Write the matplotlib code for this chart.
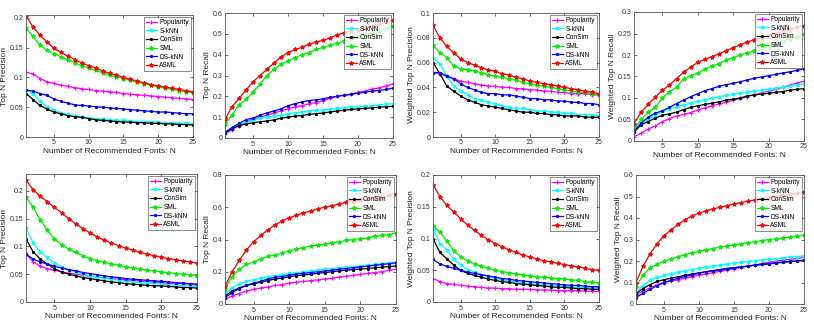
import matplotlib
matplotlib.use("Agg")
import matplotlib.pyplot as plt
import numpy as np
from matplotlib.ticker import FuncFormatter

plt.rcParams['font.family'] = ['Liberation Sans', 'DejaVu Sans']

N = np.arange(1, 26)
methods = ['Popularity', 'S-kNN', 'ConSim', 'SML', 'DS-kNN', 'ASML']

# ---- top row ----
prec_a = {
    'Popularity': [0.109, 0.106, 0.098, 0.093, 0.090, 0.087, 0.085, 0.083, 0.081, 0.080, 0.078, 0.077, 0.076, 0.075, 0.073, 0.072, 0.071, 0.070, 0.069, 0.068, 0.067, 0.066, 0.065, 0.064, 0.063],
    'S-kNN': [0.079, 0.073, 0.060, 0.051, 0.045, 0.041, 0.038, 0.036, 0.034, 0.032, 0.031, 0.030, 0.029, 0.028, 0.028, 0.027, 0.026, 0.026, 0.025, 0.025, 0.024, 0.024, 0.023, 0.023, 0.022],
    'ConSim': [0.073, 0.063, 0.053, 0.047, 0.042, 0.039, 0.036, 0.034, 0.033, 0.031, 0.029, 0.028, 0.027, 0.026, 0.025, 0.025, 0.024, 0.024, 0.023, 0.023, 0.022, 0.022, 0.021, 0.021, 0.020],
    'SML': [0.183, 0.169, 0.154, 0.146, 0.140, 0.135, 0.130, 0.125, 0.120, 0.116, 0.112, 0.108, 0.104, 0.101, 0.098, 0.095, 0.092, 0.089, 0.087, 0.084, 0.082, 0.080, 0.078, 0.076, 0.074],
    'DS-kNN': [0.079, 0.077, 0.073, 0.070, 0.064, 0.060, 0.057, 0.054, 0.053, 0.052, 0.051, 0.050, 0.049, 0.048, 0.047, 0.046, 0.045, 0.044, 0.043, 0.042, 0.042, 0.041, 0.040, 0.039, 0.039],
    'ASML': [0.204, 0.185, 0.171, 0.160, 0.149, 0.142, 0.136, 0.130, 0.124, 0.120, 0.116, 0.111, 0.107, 0.104, 0.100, 0.097, 0.094, 0.091, 0.088, 0.086, 0.084, 0.082, 0.080, 0.078, 0.076],
}
recall_a = {
    'Popularity': [0.02, 0.04, 0.06, 0.075, 0.09, 0.10, 0.11, 0.12, 0.13, 0.14, 0.15, 0.155, 0.165, 0.17, 0.18, 0.19, 0.20, 0.205, 0.21, 0.22, 0.225, 0.235, 0.24, 0.25, 0.26],
    'S-kNN': [0.025, 0.05, 0.065, 0.075, 0.085, 0.095, 0.10, 0.105, 0.11, 0.115, 0.12, 0.125, 0.13, 0.133, 0.135, 0.138, 0.142, 0.145, 0.148, 0.15, 0.153, 0.155, 0.158, 0.162, 0.165],
    'ConSim': [0.025, 0.045, 0.06, 0.067, 0.073, 0.078, 0.082, 0.087, 0.095, 0.10, 0.105, 0.108, 0.113, 0.117, 0.12, 0.125, 0.13, 0.133, 0.137, 0.14, 0.142, 0.145, 0.148, 0.15, 0.152],
    'SML': [0.065, 0.11, 0.16, 0.185, 0.22, 0.26, 0.30, 0.33, 0.355, 0.37, 0.385, 0.40, 0.41, 0.425, 0.435, 0.445, 0.455, 0.465, 0.475, 0.485, 0.495, 0.505, 0.515, 0.525, 0.54],
    'DS-kNN': [0.028, 0.05, 0.07, 0.088, 0.095, 0.11, 0.12, 0.13, 0.14, 0.155, 0.165, 0.173, 0.18, 0.183, 0.188, 0.195, 0.20, 0.205, 0.21, 0.215, 0.22, 0.225, 0.228, 0.233, 0.24],
    'ASML': [0.09, 0.15, 0.19, 0.23, 0.27, 0.30, 0.33, 0.36, 0.39, 0.41, 0.425, 0.435, 0.45, 0.46, 0.47, 0.48, 0.495, 0.505, 0.515, 0.52, 0.53, 0.54, 0.545, 0.555, 0.565],
}
wprec_a = {
    'Popularity': [0.052, 0.051, 0.049, 0.047, 0.045, 0.044, 0.043, 0.042, 0.041, 0.041, 0.040, 0.040, 0.039, 0.039, 0.038, 0.038, 0.037, 0.037, 0.036, 0.036, 0.035, 0.035, 0.035, 0.034, 0.034],
    'S-kNN': [0.064, 0.059, 0.049, 0.041, 0.037, 0.034, 0.031, 0.030, 0.028, 0.027, 0.025, 0.024, 0.023, 0.023, 0.022, 0.021, 0.021, 0.020, 0.020, 0.019, 0.019, 0.018, 0.018, 0.018, 0.017],
    'ConSim': [0.060, 0.051, 0.041, 0.037, 0.033, 0.030, 0.028, 0.026, 0.025, 0.024, 0.023, 0.022, 0.021, 0.020, 0.020, 0.019, 0.019, 0.018, 0.018, 0.017, 0.017, 0.017, 0.016, 0.016, 0.016],
    'SML': [0.074, 0.068, 0.064, 0.057, 0.055, 0.054, 0.053, 0.052, 0.050, 0.049, 0.048, 0.047, 0.046, 0.044, 0.043, 0.042, 0.041, 0.040, 0.039, 0.038, 0.037, 0.036, 0.036, 0.035, 0.034],
    'DS-kNN': [0.052, 0.052, 0.049, 0.047, 0.043, 0.040, 0.038, 0.036, 0.035, 0.035, 0.034, 0.034, 0.033, 0.032, 0.031, 0.031, 0.030, 0.030, 0.029, 0.029, 0.028, 0.028, 0.027, 0.027, 0.026],
    'ASML': [0.090, 0.080, 0.073, 0.068, 0.063, 0.060, 0.058, 0.056, 0.054, 0.053, 0.051, 0.050, 0.048, 0.047, 0.045, 0.044, 0.043, 0.042, 0.041, 0.040, 0.039, 0.038, 0.037, 0.036, 0.035],
}
wrecall_a = {
    'Popularity': [0.01, 0.018, 0.028, 0.035, 0.045, 0.052, 0.058, 0.062, 0.066, 0.072, 0.077, 0.082, 0.086, 0.09, 0.095, 0.099, 0.103, 0.108, 0.112, 0.116, 0.12, 0.125, 0.13, 0.135, 0.139],
    'S-kNN': [0.025, 0.04, 0.05, 0.06, 0.07, 0.075, 0.079, 0.084, 0.088, 0.092, 0.096, 0.099, 0.103, 0.106, 0.109, 0.111, 0.114, 0.116, 0.118, 0.12, 0.123, 0.125, 0.128, 0.131, 0.133],
    'ConSim': [0.02, 0.038, 0.045, 0.053, 0.06, 0.063, 0.067, 0.073, 0.078, 0.082, 0.085, 0.088, 0.091, 0.095, 0.097, 0.1, 0.105, 0.107, 0.109, 0.111, 0.113, 0.115, 0.118, 0.12, 0.122],
    'SML': [0.027, 0.05, 0.067, 0.078, 0.10, 0.115, 0.125, 0.145, 0.152, 0.158, 0.167, 0.174, 0.18, 0.188, 0.194, 0.20, 0.205, 0.21, 0.215, 0.22, 0.227, 0.232, 0.238, 0.243, 0.248],
    'DS-kNN': [0.022, 0.042, 0.055, 0.065, 0.07, 0.078, 0.087, 0.095, 0.103, 0.11, 0.117, 0.122, 0.127, 0.131, 0.134, 0.138, 0.142, 0.146, 0.149, 0.152, 0.155, 0.158, 0.161, 0.164, 0.168],
    'ASML': [0.04, 0.067, 0.085, 0.102, 0.118, 0.13, 0.145, 0.16, 0.172, 0.183, 0.19, 0.196, 0.203, 0.21, 0.217, 0.224, 0.23, 0.236, 0.24, 0.245, 0.25, 0.255, 0.26, 0.264, 0.268],
}

# ---- bottom row ----
prec_b = {
    'Popularity': [0.086, 0.072, 0.064, 0.060, 0.057, 0.054, 0.052, 0.050, 0.048, 0.046, 0.045, 0.043, 0.042, 0.041, 0.040, 0.039, 0.038, 0.037, 0.036, 0.035, 0.034, 0.033, 0.033, 0.032, 0.031],
    'S-kNN': [0.133, 0.106, 0.090, 0.080, 0.070, 0.063, 0.058, 0.054, 0.050, 0.047, 0.045, 0.043, 0.041, 0.039, 0.037, 0.036, 0.035, 0.034, 0.033, 0.032, 0.031, 0.030, 0.029, 0.029, 0.028],
    'ConSim': [0.114, 0.090, 0.077, 0.068, 0.060, 0.054, 0.050, 0.047, 0.044, 0.042, 0.040, 0.038, 0.036, 0.035, 0.033, 0.032, 0.031, 0.030, 0.029, 0.029, 0.028, 0.027, 0.026, 0.026, 0.025],
    'SML': [0.189, 0.170, 0.148, 0.129, 0.113, 0.103, 0.095, 0.089, 0.083, 0.078, 0.074, 0.071, 0.068, 0.066, 0.063, 0.061, 0.059, 0.057, 0.056, 0.054, 0.053, 0.051, 0.050, 0.049, 0.047],
    'DS-kNN': [0.086, 0.077, 0.072, 0.068, 0.064, 0.061, 0.058, 0.056, 0.053, 0.051, 0.049, 0.047, 0.045, 0.044, 0.042, 0.041, 0.040, 0.039, 0.038, 0.037, 0.036, 0.035, 0.034, 0.033, 0.032],
    'ASML': [0.219, 0.202, 0.190, 0.180, 0.170, 0.160, 0.150, 0.140, 0.132, 0.124, 0.117, 0.111, 0.106, 0.101, 0.097, 0.093, 0.089, 0.086, 0.083, 0.080, 0.078, 0.076, 0.074, 0.072, 0.070],
}
recall_b = {
    'Popularity': [0.03, 0.05, 0.065, 0.08, 0.09, 0.10, 0.105, 0.115, 0.12, 0.13, 0.135, 0.14, 0.145, 0.15, 0.155, 0.16, 0.167, 0.172, 0.178, 0.183, 0.19, 0.195, 0.2, 0.21, 0.215],
    'S-kNN': [0.06, 0.10, 0.125, 0.14, 0.15, 0.16, 0.17, 0.175, 0.18, 0.19, 0.195, 0.20, 0.205, 0.21, 0.215, 0.22, 0.225, 0.228, 0.232, 0.236, 0.24, 0.245, 0.25, 0.255, 0.26],
    'ConSim': [0.05, 0.08, 0.10, 0.115, 0.125, 0.135, 0.145, 0.155, 0.16, 0.17, 0.175, 0.18, 0.185, 0.19, 0.195, 0.20, 0.205, 0.21, 0.213, 0.217, 0.22, 0.225, 0.228, 0.232, 0.236],
    'SML': [0.095, 0.17, 0.215, 0.245, 0.26, 0.28, 0.295, 0.305, 0.315, 0.33, 0.34, 0.35, 0.36, 0.365, 0.37, 0.38, 0.385, 0.395, 0.40, 0.405, 0.41, 0.42, 0.425, 0.43, 0.44],
    'DS-kNN': [0.04, 0.07, 0.095, 0.115, 0.13, 0.14, 0.155, 0.165, 0.17, 0.18, 0.185, 0.19, 0.195, 0.20, 0.205, 0.21, 0.215, 0.22, 0.225, 0.23, 0.235, 0.24, 0.245, 0.25, 0.255],
    'ASML': [0.11, 0.20, 0.27, 0.335, 0.385, 0.425, 0.46, 0.49, 0.515, 0.535, 0.55, 0.565, 0.575, 0.59, 0.60, 0.61, 0.62, 0.63, 0.635, 0.645, 0.65, 0.66, 0.665, 0.675, 0.68],
}
wprec_b = {
    'Popularity': [0.037, 0.032, 0.029, 0.028, 0.026, 0.025, 0.024, 0.023, 0.022, 0.022, 0.021, 0.021, 0.020, 0.020, 0.020, 0.019, 0.019, 0.019, 0.018, 0.018, 0.018, 0.018, 0.017, 0.017, 0.017],
    'S-kNN': [0.115, 0.092, 0.082, 0.067, 0.058, 0.051, 0.047, 0.043, 0.040, 0.037, 0.035, 0.033, 0.032, 0.030, 0.029, 0.028, 0.027, 0.026, 0.025, 0.025, 0.024, 0.023, 0.023, 0.022, 0.022],
    'ConSim': [0.100, 0.078, 0.068, 0.058, 0.050, 0.045, 0.042, 0.039, 0.036, 0.034, 0.032, 0.031, 0.029, 0.028, 0.027, 0.026, 0.025, 0.024, 0.023, 0.023, 0.022, 0.021, 0.021, 0.020, 0.020],
    'SML': [0.120, 0.110, 0.096, 0.081, 0.071, 0.065, 0.060, 0.056, 0.053, 0.050, 0.048, 0.046, 0.044, 0.043, 0.041, 0.040, 0.039, 0.038, 0.037, 0.036, 0.035, 0.034, 0.032, 0.031, 0.030],
    'DS-kNN': [0.067, 0.060, 0.056, 0.053, 0.050, 0.047, 0.045, 0.043, 0.041, 0.039, 0.037, 0.036, 0.034, 0.033, 0.032, 0.031, 0.030, 0.029, 0.028, 0.027, 0.026, 0.026, 0.025, 0.024, 0.024],
    'ASML': [0.185, 0.166, 0.152, 0.142, 0.131, 0.121, 0.113, 0.105, 0.098, 0.092, 0.087, 0.082, 0.078, 0.074, 0.071, 0.068, 0.065, 0.063, 0.061, 0.059, 0.057, 0.055, 0.053, 0.051, 0.050],
}
wrecall_b = {
    'Popularity': [0.04, 0.06, 0.075, 0.09, 0.1, 0.107, 0.113, 0.12, 0.127, 0.133, 0.14, 0.146, 0.152, 0.158, 0.164, 0.17, 0.176, 0.182, 0.188, 0.194, 0.199, 0.204, 0.208, 0.212, 0.217],
    'S-kNN': [0.055, 0.085, 0.11, 0.125, 0.133, 0.14, 0.147, 0.155, 0.16, 0.166, 0.171, 0.176, 0.18, 0.185, 0.19, 0.194, 0.197, 0.201, 0.205, 0.208, 0.211, 0.214, 0.217, 0.22, 0.224],
    'ConSim': [0.048, 0.072, 0.09, 0.105, 0.113, 0.12, 0.127, 0.133, 0.139, 0.145, 0.15, 0.155, 0.16, 0.165, 0.168, 0.172, 0.176, 0.18, 0.184, 0.187, 0.19, 0.194, 0.197, 0.2, 0.203],
    'SML': [0.08, 0.135, 0.168, 0.185, 0.198, 0.21, 0.22, 0.23, 0.237, 0.245, 0.252, 0.258, 0.265, 0.27, 0.275, 0.28, 0.285, 0.29, 0.295, 0.30, 0.303, 0.307, 0.31, 0.315, 0.32],
    'DS-kNN': [0.03, 0.05, 0.068, 0.085, 0.1, 0.11, 0.12, 0.128, 0.135, 0.143, 0.15, 0.155, 0.16, 0.165, 0.169, 0.173, 0.177, 0.181, 0.185, 0.188, 0.192, 0.195, 0.198, 0.201, 0.204],
    'ASML': [0.10, 0.175, 0.233, 0.28, 0.318, 0.345, 0.37, 0.392, 0.41, 0.423, 0.433, 0.442, 0.45, 0.458, 0.465, 0.472, 0.478, 0.484, 0.49, 0.495, 0.50, 0.505, 0.51, 0.515, 0.52],
}

ylabels = ['Top N Precision', 'Top N Recall', 'Weighted Top N Precision', 'Weighted Top N Recall']
xlabel = 'Number of Recommended Fonts: N'

styles = {
    'Popularity': dict(color='#ff00ff', marker='+', ms=3),
    'S-kNN': dict(color='#00ffff', marker='o', ms=2),
    'ConSim': dict(color='black', marker='.', ms=3),
    'SML': dict(color='#00ee00', marker='*', ms=3),
    'DS-kNN': dict(color='#0000ff', marker='.', ms=3),
    'ASML': dict(color='#ff0000', marker='*', ms=3),
}

# panel boxes in pixels: left, top, right, bottom
W, H = 814, 326
boxes = [(26, 15, 193, 137), (225, 13, 393, 138), (433, 13, 599, 137), (634, 12, 804, 141),
         (26, 174, 197, 302), (225, 175, 396, 304), (433, 175, 599, 302), (636, 175, 804, 304)]
panels = [prec_a, recall_a, wprec_a, wrecall_a, prec_b, recall_b, wprec_b, wrecall_b]
ylims = [0.205, 0.6, 0.1, 0.3, 0.23, 0.8, 0.2, 0.6]
ysteps = [0.05, 0.1, 0.02, 0.05, 0.05, 0.2, 0.05, 0.1]

fig = plt.figure(figsize=(W / 100, H / 100), dpi=100)

for i, (data, box) in enumerate(zip(panels, boxes)):
    l, t, r, b = box
    ax = fig.add_axes([l / W, 1 - b / H, (r - l) / W, (b - t) / H])
    for m in methods:
        st = styles[m]
        ax.plot(N, data[m], '-', color=st['color'], marker=st['marker'], ms=st['ms'],
                lw=0.9, mew=0.8, label=m)
    ax.set_xlim(1, 25)
    ax.set_ylim(0, ylims[i])
    ax.set_xticks([5, 10, 15, 20, 25])
    ax.set_yticks(np.arange(0, ylims[i] + 1e-9, ysteps[i]))
    ax.yaxis.set_major_formatter(FuncFormatter(lambda v, p: '%g' % round(v, 3)))
    ax.tick_params(direction='in', length=2, width=0.5, labelsize=5.0, pad=1.8,
                   top=True, right=True, colors='#333333')
    for s in ax.spines.values():
        s.set_linewidth(0.6)
        s.set_color('#555555')
    ax.set_xlabel(xlabel, fontsize=6.0, labelpad=1, color='#222222')
    ax.set_ylabel(ylabels[i % 4], fontsize=6.0, labelpad=1, color='#222222')
    leg = ax.legend(loc='upper right', fontsize=4.8, frameon=True, fancybox=False,
                    handlelength=1.6, handletextpad=0.4, labelspacing=0.25,
                    borderpad=0.3, borderaxespad=0.3)
    leg.get_frame().set_edgecolor('#333333')
    leg.get_frame().set_linewidth(0.5)

fig.savefig('out.png', dpi=100)
